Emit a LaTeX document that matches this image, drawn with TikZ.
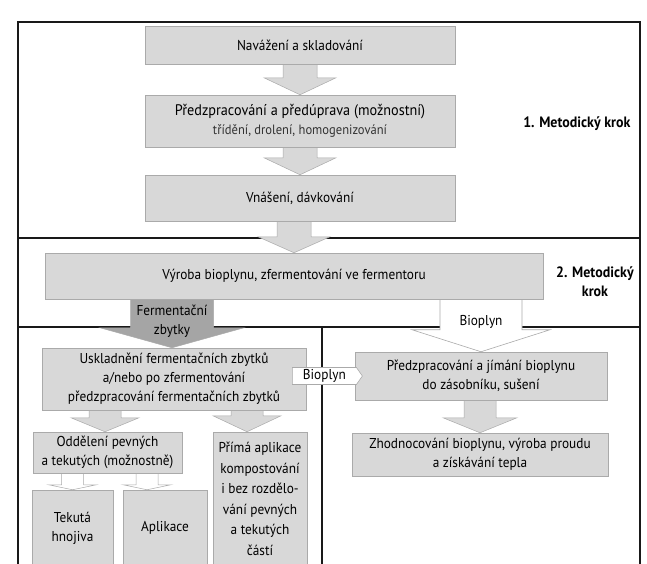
\documentclass[tikz,border=0pt]{standalone}
\usepackage{fontspec}
\setmainfont{PT Sans}[FakeStretch=0.93]
\usetikzlibrary{calc,shapes.symbols}
\definecolor{boxfill}{RGB}{216,216,216}
\definecolor{boxedge}{RGB}{170,170,170}
\definecolor{darkfill}{RGB}{165,165,165}
\definecolor{frameblack}{RGB}{25,25,25}
\pgfdeclarelayer{framelayer}
\pgfdeclarelayer{arrowlayer}
\pgfsetlayers{framelayer,arrowlayer,main}
\newcommand{\dnarrow}[6]{%
  \path[#1] let \p1=(#2), \p2=(#3) in
    (\x2-#4,\y1) -- (\x2+#4,\y1) -- (\x2+#4,\y2+#6) -- (\x2+#5,\y2+#6)
    -- (\x2,\y2) -- (\x2-#5,\y2+#6) -- (\x2-#4,\y2+#6) -- cycle;}
\newcommand{\mainsize}{\fontsize{14.3}{19}\selectfont}
\begin{document}
\begin{tikzpicture}[x=1pt,y=-1pt,
  box/.style={fill=boxfill, draw=boxedge, line width=0.5pt, inner sep=0pt,
    align=center, font=\mainsize},
  grayarrow/.style={fill=boxfill, draw=boxedge, line width=0.5pt},
  darkarrow/.style={fill=darkfill, draw=boxedge, line width=0.5pt},
  whitearrow/.style={fill=white, draw=boxedge, line width=0.6pt},
  thinarrow/.style={fill=white, draw=boxedge, line width=0.5pt},
  frameline/.style={draw=frameblack, line width=1.5pt},
  steplabel/.style={font=\fontsize{15}{19}\selectfont\bfseries, align=center},
  arrowtext/.style={font=\mainsize, align=center, inner sep=0pt}]
\clip (0,0) rectangle (647,563);

% boxes
\node[box, minimum width=310, minimum height=38] (b1) at (300,45) {Navážení a skladování};
\node[box, minimum width=310, minimum height=52] (b2) at (300,121)
  {{\fontsize{15.3}{18}\selectfont Předzpracování a předúprava (možnostní)}\\
   {\fontsize{13.5}{18}\selectfont\color{black!80}třídění, drolení, homogenizování}};
\node[box, minimum width=310, minimum height=46] (b3) at (300,198) {Vnášení, dávkování};
\node[box, minimum width=498, minimum height=46] (b4) at (294,276)
  {Výroba bioplynu, zfermentování ve fermentoru};
\node[box, minimum width=252, minimum height=48] (bA) at (481,376)
  {Předzpracování a jímání bioplynu\\do zásobníku, sušení};
\node[box, minimum width=256, minimum height=43] (bB) at (480,454.5)
  {Zhodnocování bioplynu, výroba proudu\\a získávání tepla};
\node[box, minimum width=264, minimum height=62] (u1) at (174,379)
  {Uskladnění fermentačních zbytků\\a/nebo po zfermentování\\předzpracování fermentačních zbytků};
\node[box, minimum width=149, minimum height=41] (o1) at (107.5,452.5)
  {Oddělení pevných\\a tekutých (možnostně)};
\node[box, minimum width=94, minimum height=134, font=\fontsize{14.3}{20.5}\selectfont] (p1) at (260,499)
  {Přímá aplikace\\kompostování\\i bez rozdělo-\\vání pevných\\a tekutých\\částí};
\node[box, minimum width=81, minimum height=76] (t1) at (72.5,528) {Tekutá\\hnojiva};
\node[box, minimum width=84, minimum height=76] (a1) at (165,528) {Aplikace};

% step labels
\node[steplabel, anchor=east] (s1) at (634,124) {1. Metodický krok};
\node[steplabel] (s2) at (595,282) {2. Metodický\\krok};

% frame
\begin{pgfonlayer}{framelayer}
\fill[white] (0,0) rectangle (647,563);
\draw[frameline] (18,570) -- (18,22) -- (640,22) -- (640,570);
\draw[frameline] (18,238) -- (640,238);
\draw[frameline] (18,327) -- (640,327);
\draw[frameline] (322,327) -- (322,570);
\end{pgfonlayer}

% block arrows
\begin{pgfonlayer}{arrowlayer}
\dnarrow{grayarrow}{b1.south}{b2.north}{17pt}{36pt}{17pt}
\dnarrow{grayarrow}{b2.south}{b3.north}{17pt}{36pt}{17pt}
\dnarrow{grayarrow}{b3.south}{b4.north}{17pt}{36pt}{16pt}
\dnarrow{darkarrow}{$(b4.south)+(0,-0.3)$}{$(u1.north)+(-2,0)$}{41.5pt}{72pt}{20pt}
\dnarrow{whitearrow}{$(b4.south)+(0,-0.3)$}{bA.north}{41pt}{69pt}{22pt}
\dnarrow{grayarrow}{bA.south}{bB.north}{16pt}{37pt}{15pt}
\dnarrow{grayarrow}{u1.south}{$(o1.north)+(-2.5,0)$}{16pt}{34pt}{14pt}
\dnarrow{grayarrow}{u1.south}{$(p1.north)+(-13,0)$}{16pt}{34pt}{16pt}
\dnarrow{thinarrow}{o1.south}{t1.north}{11pt}{24pt}{5pt}
\dnarrow{thinarrow}{o1.south}{$(a1.north)+(-18,0)$}{11pt}{24pt}{5pt}
\end{pgfonlayer}

% arrow labels
\node[arrowtext] (fz) at (172,321) {Fermentační\\zbytky};
\node[arrowtext] (bp) at (481,322) {Bioplyn};
\node[signal, signal to=east, signal pointer angle=110, fill=white, draw=boxedge,
  line width=0.6pt, minimum width=70, minimum height=17, inner sep=1pt,
  anchor=east, font=\mainsize] (bl) at ($(bA.west)+(8,0)$) {Bioplyn};
\end{tikzpicture}
\end{document}
